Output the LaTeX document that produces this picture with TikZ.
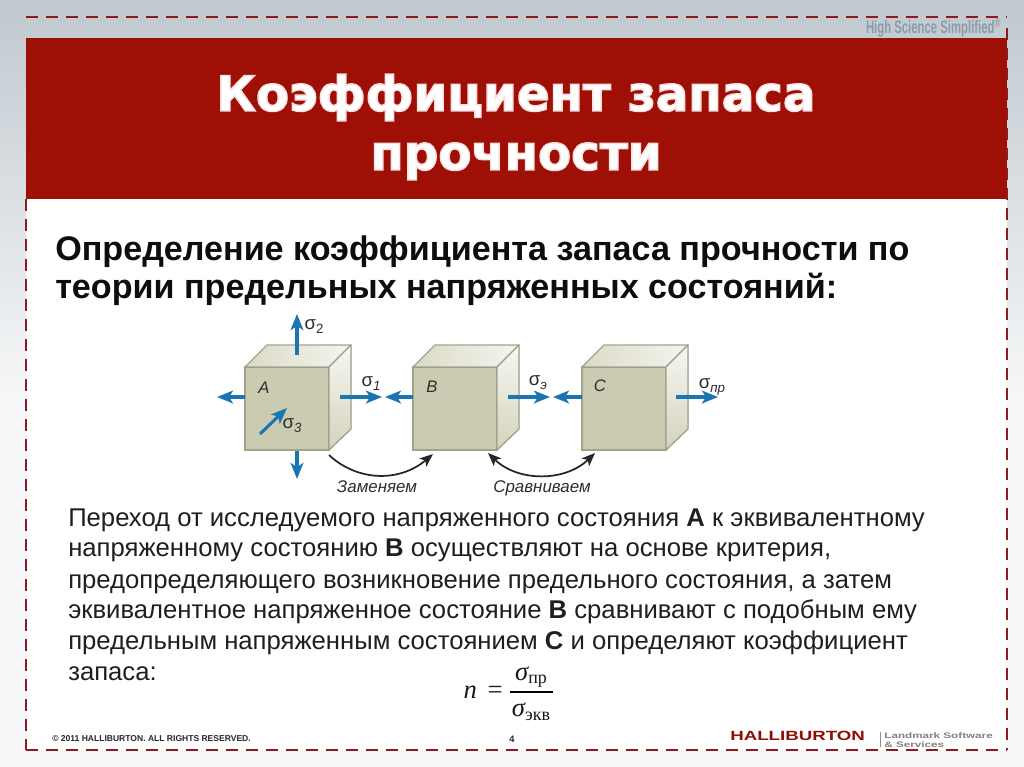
\documentclass[tikz,border=0pt]{standalone}
\usepackage{fontspec}
\setmainfont{Liberation Sans}
\newfontfamily\titlefont[FakeBold=3]{DejaVu Sans Bold}
\newfontfamily\serifface{Liberation Serif}
\usetikzlibrary{arrows.meta}
\definecolor{slidered}{HTML}{9E1006}
\definecolor{dashred}{HTML}{8E1A1E}
\definecolor{cubefront}{HTML}{CBCBB1}
\definecolor{cubeedge}{HTML}{A3A38C}
\definecolor{arrowblue}{HTML}{1A76B2}
\definecolor{inkgrey}{HTML}{2E2E2E}
\definecolor{wmgrey}{HTML}{8D9BA8}
\definecolor{bgtop}{HTML}{C0C9CF}
\definecolor{bgmid}{HTML}{F6F7F8}
\tikzset{
  front/.style={draw=cubeedge,line width=1pt,fill=cubefront,minimum width=63pt,minimum height=62.25pt,inner sep=0pt,outer sep=0pt,anchor=north west},
  cubetop/.style={draw=cubeedge,line width=1pt,left color=cubefront!70!white,right color=cubefront!20!white,line join=round},
  cubeside/.style={draw=cubeedge,line width=1pt,top color=cubefront!15!white,bottom color=cubefront!85!white,line join=round},
  stress/.style={arrowblue,line width=2.3pt,-{Stealth[length=12pt,width=9.5pt,inset=3pt]}},
  swap/.style={black!85,line width=1.3pt,-{Stealth[length=10pt,width=8pt,inset=2.5pt]}},
  swapboth/.style={black!85,line width=1.3pt,{Stealth[length=10pt,width=8pt,inset=2.5pt]}-{Stealth[length=10pt,width=8pt,inset=2.5pt]}},
  headline/.style={anchor=base west,inner sep=0pt,font=\fontsize{25.6pt}{30pt}\selectfont\bfseries,text=black!95},
  bodyline/.style={anchor=base west,inner sep=0pt,font=\fontsize{19.25pt}{23pt}\selectfont,text=black!88},
  titleline/.style={anchor=center,inner sep=0pt,align=center,text=white,font=\fontsize{36.2pt}{44.25pt}\titlefont},
  cubelabel/.style={inner sep=0pt,font=\fontsize{12.5pt}{15pt}\selectfont\itshape,text=inkgrey},
  stresslabel/.style={inner sep=0pt,font=\fontsize{14pt}{16pt}\selectfont,text=inkgrey},
  actionlabel/.style={anchor=base,inner sep=0pt,font=\fontsize{12.7pt}{15pt}\selectfont\itshape,text=inkgrey},
  formula/.style={inner sep=0pt,font=\fontsize{20pt}{24pt}\serifface,text=black!90},
  foot/.style={inner sep=0pt,font=\fontsize{6.4pt}{8pt}\selectfont\bfseries,text=black!85},
}
\newcommand{\cube}[3]{% name, x, label
  \node[front] (#1) at (#2,367) {};
  \coordinate (#1tl) at (#2+22,345);
  \coordinate (#1tr) at (#2+106,345);
  \coordinate (#1br) at (#2+106,429);
  \filldraw[cubetop] (#1.north west) -- (#1tl) -- (#1tr) -- (#1.north east) -- cycle;
  \filldraw[cubeside] (#1.north east) -- (#1tr) -- (#1br) -- (#1.south east) -- cycle;
}
\begin{document}
\begin{tikzpicture}[x=0.75pt,y=-0.75pt]
\useasboundingbox (0,0) rectangle (1024,767);
% backdrop
\fill[bgmid] (0,400) rectangle (1024,767);
\shade[top color=bgtop,bottom color=bgmid] (0,0) rectangle (1024,400);
\fill[white] (26,199) rectangle (1007,750);
\fill[slidered] (26,38) rectangle (1007,199);
% dashed frame
\coordinate (ftl) at (26,17);
\coordinate (ftr) at (1007,17);
\coordinate (fbr) at (1007,750);
\coordinate (fbl) at (26,750);
\draw[dashred,line width=1.9pt,dash pattern=on 9pt off 6pt] (ftl) -- (ftr);
\draw[dashred,line width=1.9pt,dash pattern=on 9pt off 6pt] (ftr) ++(0,11) -- (fbr);
\draw[dashred,line width=1.9pt,dash pattern=on 9pt off 6pt] (fbl) -- (fbr);
\draw[dashred,line width=1.9pt,dash pattern=on 9pt off 6pt] (ftl) ++(0,182) -- (fbl);
% watermark
\node[inner sep=0pt,anchor=east,xscale=0.63,font=\fontsize{13.5pt}{15pt}\selectfont\bfseries,text=wmgrey] (wm) at (1001,28) {High Science Simplified\textsuperscript{®}};
% title
\node[titleline] (t1) at (516,127) {\special{pdf:code 0.98 0.88 0.88 RG}Коэффициент запаса\\\special{pdf:code 0.98 0.88 0.88 RG}прочности};
% heading
\node[headline] (h1) at (55,260) {Определение коэффициента запаса прочности по};
\node[headline] (h2) at (55,298) {теории предельных напряженных состояний:};
% cubes
\cube{fa}{245}{A}
\cube{fb}{413}{B}
\cube{fc}{582}{C}
\node[cubelabel] (la) at (264,388) {A};
\node[cubelabel] (lb) at (432,387) {B};
\node[cubelabel] (lc) at (600,386) {C};
% arrows
\coordinate (a2s) at (297,355); \coordinate (a2e) at (297,314);
\coordinate (aLe) at (217,397); \coordinate (aRs) at (340,397); \coordinate (aRe) at (382,397);
\coordinate (aDs) at (297,451); \coordinate (aDe) at (297,479);
\coordinate (a3s) at (260,434); \coordinate (a3e) at (287,408);
\coordinate (bLe) at (385,397); \coordinate (bRs) at (508,397); \coordinate (bRe) at (550,397);
\coordinate (cLe) at (553,397); \coordinate (cRs) at (676,397); \coordinate (cRe) at (718,397);
\draw[stress] (a2s) -- (a2e);
\draw[stress] (fa.west |- aLe) -- (aLe);
\draw[stress] (aRs) -- (aRe);
\draw[stress] (aDs) -- (aDe);
\draw[stress] (a3s) -- (a3e);
\draw[stress] (fb.west |- bLe) -- (bLe);
\draw[stress] (bRs) -- (bRe);
\draw[stress] (fc.west |- cLe) -- (cLe);
\draw[stress] (cRs) -- (cRe);
% stress labels
\node[stresslabel] (s2) at (314,327) {σ\raisebox{-3pt}{\fontsize{10pt}{11pt}\selectfont 2}};
\node[stresslabel] (s1) at (371,384) {σ\raisebox{-3pt}{\fontsize{10pt}{11pt}\selectfont\itshape 1}};
\node[stresslabel] (s3) at (292,426) {σ\raisebox{-3pt}{\fontsize{10pt}{11pt}\selectfont\itshape 3}};
\node[stresslabel] (se) at (538,383) {σ\raisebox{-3pt}{\fontsize{10pt}{11pt}\selectfont\itshape э}};
\node[stresslabel] (sp) at (712,387) {σ\raisebox{-3pt}{\fontsize{10pt}{11pt}\selectfont\itshape пр}};
% curved arrows
\coordinate (c1s) at (329,455); \coordinate (c1e) at (433,454);
\coordinate (c2s) at (488,453); \coordinate (c2e) at (595,453);
\draw[swap] (c1s) .. controls (358,482) and (400,482) .. (c1e);
\draw[swapboth] (c2s) .. controls (518,482) and (565,482) .. (c2e);
\node[actionlabel] (za) at (377,492) {Заменяем};
\node[actionlabel] (sr) at (542,492) {Сравниваем};
% body
\node[bodyline] (b1) at (68,526) {Переход от исследуемого напряженного состояния \textbf{А} к эквивалентному};
\node[bodyline] (b2) at (68,556) {напряженному состоянию \textbf{В} осуществляют на основе критерия,};
\node[bodyline] (b3) at (68,588) {предопределяющего возникновение предельного состояния, а затем};
\node[bodyline] (b4) at (68,618) {эквивалентное напряженное состояние \textbf{В} сравнивают с подобным ему};
\node[bodyline] (b5) at (68,649) {предельным напряженным состоянием \textbf{С} и определяют коэффициент};
\node[bodyline] (b6) at (68,680) {запаса:};
% formula
\node[formula,anchor=base east] (fn) at (503,698) {\itshape n\hspace{3pt} \upshape =};
\node[formula,anchor=base] (fu) at (531,680) {\itshape σ\raisebox{-2.5pt}{\fontsize{13.5pt}{15pt}\selectfont\upshape пр}};
\node[formula,anchor=base] (fd) at (531,716) {\itshape σ\raisebox{-3pt}{\fontsize{13.5pt}{15pt}\selectfont\upshape экв}};
\coordinate (bar1) at (510,692); \coordinate (bar2) at (553,692);
\draw[black,line width=0.8pt] (bar1) -- (bar2);
% footer
\node[foot,anchor=west] (copy) at (52,739) {© 2011 HALLIBURTON. ALL RIGHTS RESERVED.};
\node[foot,anchor=center,font=\fontsize{7pt}{8pt}\selectfont\bfseries] (pg) at (512,739) {4};
\node[anchor=west,inner sep=0pt,xscale=1.4,font=\fontsize{10pt}{12pt}\selectfont\bfseries,text=slidered!90!black] (hb) at (730,736) {HALLIBURTON};
\coordinate (sep1) at (880,732); \coordinate (sep2) at (880,747);
\draw[black!45,line width=0.7pt] (sep1) -- (sep2);
\node[anchor=west,inner sep=0pt,xscale=1.46,font=\fontsize{6pt}{6.75pt}\selectfont\bfseries,text=black!50,align=left] (lm) at (884,740) {Landmark Software\\\& Services};
\end{tikzpicture}
\end{document}
